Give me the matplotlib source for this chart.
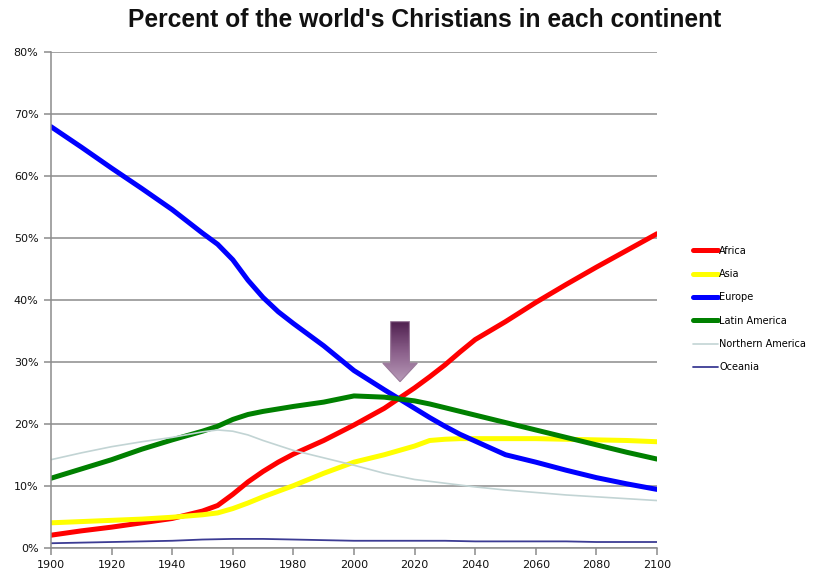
import matplotlib
matplotlib.use("Agg")
import matplotlib.pyplot as plt
import numpy as np
from matplotlib.patches import Polygon
from matplotlib.colors import LinearSegmentedColormap

years = [1900, 1910, 1920, 1930, 1940, 1950, 1955, 1960, 1965, 1970, 1975, 1980, 1990, 2000,
         2010, 2020, 2025, 2030, 2035, 2040, 2050, 2060, 2070, 2080, 2090, 2100]

africa = [2.0, 2.7, 3.3, 4.0, 4.7, 5.9, 6.8, 8.6, 10.6, 12.3, 13.8, 15.1, 17.3, 19.8,
          22.5, 25.8, 27.6, 29.5, 31.6, 33.6, 36.5, 39.6, 42.5, 45.3, 48.0, 50.7]
asia = [4.0, 4.2, 4.4, 4.6, 4.9, 5.3, 5.6, 6.3, 7.2, 8.2, 9.1, 10.0, 12.0, 13.8,
        15.0, 16.4, 17.3, 17.5, 17.6, 17.6, 17.6, 17.6, 17.5, 17.4, 17.3, 17.1]
europe = [68.0, 64.7, 61.3, 58.0, 54.6, 50.8, 49.0, 46.5, 43.2, 40.4, 38.1, 36.2, 32.6, 28.6,
          25.5, 22.5, 21.0, 19.6, 18.3, 17.2, 15.0, 13.8, 12.5, 11.3, 10.3, 9.4]
latin_america = [11.2, 12.7, 14.2, 15.9, 17.4, 18.8, 19.6, 20.7, 21.5, 22.0, 22.4, 22.8, 23.5, 24.5,
                 24.3, 23.7, 23.2, 22.6, 22.0, 21.4, 20.2, 19.0, 17.8, 16.6, 15.4, 14.3]
northern_america = [14.2, 15.3, 16.3, 17.1, 17.8, 18.7, 19.0, 18.8, 18.2, 17.3, 16.5, 15.7, 14.5, 13.3,
                    12.0, 11.0, 10.7, 10.4, 10.1, 9.8, 9.3, 8.9, 8.5, 8.2, 7.9, 7.6]
oceania = [0.7, 0.8, 0.9, 1.0, 1.1, 1.3, 1.35, 1.4, 1.4, 1.4, 1.35, 1.3, 1.2, 1.1,
           1.1, 1.1, 1.1, 1.1, 1.05, 1.0, 1.0, 1.0, 1.0, 0.9, 0.9, 0.9]

series_names = ["Africa", "Asia", "Europe", "Latin America", "Northern America", "Oceania"]
x_ticks = [1900, 1920, 1940, 1960, 1980, 2000, 2020, 2040, 2060, 2080, 2100]
y_ticks = [0, 10, 20, 30, 40, 50, 60, 70, 80]
title = "Percent of the world's Christians in each continent"

fig = plt.figure(figsize=(8.33, 5.72), dpi=100)
ax = fig.add_axes([0.0612, 0.0427, 0.7275, 0.8657])

styles = [
    dict(color="#ff0000", lw=3.6),
    dict(color="#ffff00", lw=3.6),
    dict(color="#0000ff", lw=3.6),
    dict(color="#008000", lw=3.6),
    dict(color="#c2d4d4", lw=1.2),
    dict(color="#3c3c94", lw=1.3),
]
data = [africa, asia, europe, latin_america, northern_america, oceania]
for name, vals, st in zip(series_names, data, styles):
    ax.plot(years, vals, label=name, solid_capstyle="round", solid_joinstyle="round", **st)

ax.set_xticks(x_ticks)
ax.set_yticks(y_ticks)
ax.set_yticklabels([f"{v}%" for v in y_ticks])
ax.set_xticklabels([str(v) for v in x_ticks])
ax.yaxis.grid(True, color="#8c8c8c", lw=1.1)
ax.set_axisbelow(True)
for s in ["top", "right"]:
    ax.spines[s].set_visible(False)
for s in ["left", "bottom"]:
    ax.spines[s].set_color("#8c8c8c")
    ax.spines[s].set_linewidth(1.1)
ax.tick_params(axis="both", direction="out", length=5, width=1.1, color="#8c8c8c",
               labelsize=8, labelcolor="#111111", pad=4)
for lab in ax.get_xticklabels() + ax.get_yticklabels():
    lab.set_fontfamily("DejaVu Sans")

# Arrow annotation with purple gradient (dark top, light bottom)
arrow_pts = [(2012.1, 36.5), (2018.3, 36.5), (2018.3, 29.8), (2020.9, 29.8),
             (2015.2, 26.8), (2009.5, 29.8), (2012.1, 29.8)]
poly = Polygon(arrow_pts, closed=True, facecolor="none", edgecolor="#9a7a9a", lw=0.8, zorder=6)
ax.add_patch(poly)
grad = np.linspace(0, 1, 100).reshape(-1, 1)
cmap = LinearSegmentedColormap.from_list("pur", ["#4e1f4e", "#8a5f8a", "#b89ab8"])
im = ax.imshow(grad, extent=(2009.5, 2020.9, 26.8, 36.5), origin="upper", cmap=cmap,
               aspect="auto", zorder=5)
im.set_clip_path(poly)
ax.set_xlim(1900, 2100)
ax.set_ylim(0, 80)

leg = ax.legend(loc="upper left", bbox_to_anchor=(1.045, 0.627), frameon=False,
                handlelength=2.6, handletextpad=0.1, labelspacing=1.37,
                prop={"family": "DejaVu Sans", "size": 7})

fig.text(0.51, 0.965, title, ha="center", va="center", fontsize=17.7, fontweight="bold",
         family="Liberation Sans", color="#111111")

fig.savefig("out.png", dpi=100)
